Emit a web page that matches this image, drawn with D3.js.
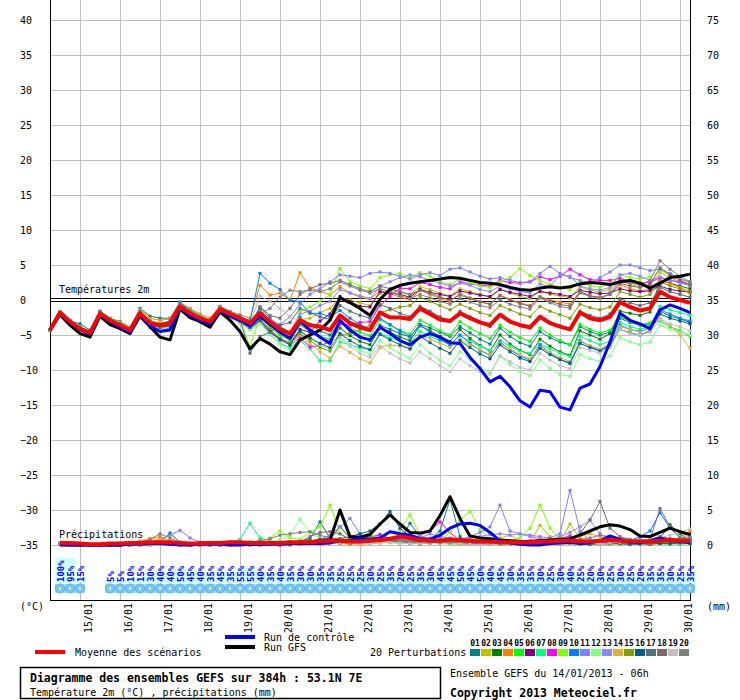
<!DOCTYPE html>
<html>
<head>
<meta charset="utf-8">
<script src="https://cdn.jsdelivr.net/npm/d3@7"></script>
<style>
body{margin:0;background:#fff;}
svg{display:block;}
</style>
</head>
<body>
<script>
// axes / categories
var dates = ["15/01","16/01","17/01","18/01","19/01","20/01","21/01","22/01","23/01","24/01","25/01","26/01","27/01","28/01","29/01","30/01"];
var tempTicks = [-35,-30,-25,-20,-15,-10,-5,0,5,10,15,20,25,30,35,40];
var mmTicks = [0,5,10,15,20,25,30,35,40,45,50,55,60,65,70,75];

// precipitation probability (%) per 6h step
var pctRain = [100,95,15,0,0,5,5,10,15,30,40,40,50,45,40,35,45,35,55,55,40,35,40,35,30,30,35,35,25,25,25,30,
               25,35,20,25,35,30,45,45,50,45,50,40,45,30,35,35,30,25,30,40,25,20,30,25,30,25,20,35,35,30,25,35];

// 2m temperature, every 6h from 14/01 06h
var meanT = [-4.3,-1.8,-3.1,-4.1,-4.7,-1.9,-2.9,-3.6,-4.3,-1.9,-3.3,-3.6,-3.3,-0.9,-1.9,-2.6,-3.1,-1.3,-2.0,-2.6,-3.3,
  -1.9,-3.1,-4.2,-4.8,
  -2.9,-3.6,-3.8,-4.3,-2.2,-3.3,-3.9,-4.3,-1.8,-2.5,-2.5,-2.7,-1.2,-2.0,-2.8,-3.0,-1.9,-2.6,-3.2,-3.6,-2.1,-3.1,-3.6,-3.9,-2.4,-3.3,-3.8,-4.2,-1.8,-2.6,-2.9,-2.4,-0.3,-1.0,-1.5,-1.2,1.2,0.4,0.0,-0.4];
var gfsT = [-4.3,-2.1,-3.6,-4.8,-5.3,-2.3,-3.5,-4.1,-4.8,-2.3,-3.8,-5.3,-5.7,-1.3,-2.5,-3.1,-3.9,-1.7,-2.9,-4.5,-7.0,
  -5.5,-6.3,-7.4,-7.8,
  -5.7,-5.0,-4.3,-2.9,0.3,-0.4,-1.2,-2.2,0.1,1.5,2.1,2.4,2.6,2.8,3.0,3.2,3.1,2.8,2.5,2.4,2.2,1.8,1.5,1.4,1.7,1.9,1.7,1.9,2.3,2.5,2.4,2.2,2.6,2.8,2.4,1.7,2.4,3.2,3.4,3.7];
var ctrlT = [-4.3,-1.9,-3.2,-4.2,-4.9,-2.0,-3.1,-3.9,-4.6,-2.1,-3.7,-4.5,-4.3,-1.1,-2.2,-2.9,-3.4,-1.5,-2.3,-2.9,-3.7,
  -2.3,-3.5,-4.6,-5.5,
  -3.1,-4.3,-5.3,-6.2,-2.9,-4.3,-5.3,-5.7,-3.9,-4.8,-5.8,-6.4,-5.3,-4.8,-5.3,-6.1,-6.2,-8.2,-9.8,-11.7,-10.9,-12.4,-14.4,-15.3,-12.9,-13.1,-15.3,-15.7,-12.6,-12.0,-9.5,-6.0,-1.9,-2.9,-3.4,-4.1,-1.4,-0.7,-1.2,-1.8];

var t01 = [-4.3,-1.8,-3.0,-3.4,-4.3,-1.6,-2.6,-3.1,-3.9,-1.2,-2.3,-2.6,-2.6,-0.3,-1.4,-2.2,-2.9,-1.1,-1.9,-2.6,-3.6,-1.0,-2.6,-3.8,-4.6,
  -2.5,-3.5,-4.4,-5.0,-3.2,-4.4,-5.3,-5.8,-3.6,-4.2,-4.8,-5.3,-3.5,-4.0,-4.6,-5.2,-3.8,-4.7,-5.6,-6.3,-4.0,-5.2,-6.1,-6.6,-4.5,-5.4,-6.0,-6.4,-3.8,-4.5,-5.0,-4.6,-2.6,-3.2,-3.6,-3.4,-1.6,-2.3,-2.7,-3.2];
var t02 = [-4.3,-1.9,-3.2,-4.3,-5.0,-2.1,-3.1,-3.8,-4.6,-2.3,-3.6,-4.0,-3.8,-1.2,-2.2,-2.9,-3.4,-1.5,-2.2,-2.8,-3.7,-2.2,-3.6,-4.8,-5.5,
  -2.8,-2.6,-1.8,-1.2,0.4,0.0,-0.4,-0.8,0.9,1.3,1.1,0.8,1.9,1.5,1.0,0.6,1.6,1.2,0.8,0.4,1.5,1.0,0.5,0.2,1.3,0.8,0.6,0.3,1.9,1.4,1.2,1.5,2.8,2.2,1.9,2.2,3.9,3.2,2.6,2.0];
var t03 = [-4.3,-1.7,-3.0,-4.0,-4.6,-1.8,-2.8,-3.5,-4.2,-1.7,-3.1,-3.5,-3.2,-0.6,-1.7,-2.5,-3.0,-1.0,-1.8,-2.4,-3.0,-1.4,-2.9,-4.1,-5.1,
  -3.2,-4.4,-5.3,-6.0,-4.0,-5.1,-5.9,-6.4,-3.9,-4.6,-5.3,-5.8,-3.7,-4.4,-5.2,-5.9,-4.2,-5.5,-6.5,-7.3,-5.0,-6.3,-7.2,-7.8,-5.6,-6.6,-7.4,-7.9,-4.4,-5.0,-5.6,-4.8,-1.6,-1.9,-2.2,-1.7,2.8,2.4,2.0,1.6];
var t04 = [-4.3,-1.8,-3.1,-4.0,-4.6,-1.7,-2.7,-3.2,-3.9,-1.4,-2.6,-2.9,-2.7,-0.4,-1.2,-2.0,-2.6,-0.9,-1.6,-2.1,-2.6,2.1,0.7,1.0,0.0,
  3.9,1.7,1.3,0.7,1.9,1.0,0.4,0.1,1.3,0.9,0.4,0.0,1.4,0.8,0.2,-0.2,0.9,0.3,-0.2,-0.6,0.7,0.1,-0.4,-0.8,0.5,0.0,-0.3,-0.6,1.2,0.6,0.4,0.8,2.2,1.6,1.3,1.5,2.9,2.3,1.8,1.2];
var t05 = [-4.3,-1.7,-3.0,-4.1,-4.8,-1.9,-3.0,-3.7,-4.4,-1.8,-3.2,-3.5,-3.1,-0.7,-1.8,-2.5,-3.0,-1.2,-1.9,-2.5,-3.4,-2.4,-3.9,-5.0,-5.8,
  -3.6,-4.5,-5.2,-5.6,-3.0,-4.0,-4.6,-5.1,-2.8,-3.6,-4.3,-4.9,-2.9,-3.6,-4.4,-5.0,-3.1,-4.0,-4.8,-5.5,-3.6,-4.6,-5.4,-5.9,-4.0,-5.0,-5.8,-6.4,-3.5,-4.2,-4.7,-4.3,-2.4,-3.0,-3.5,-3.3,-3.0,-3.8,-4.4,-5.2];
var t06 = [-4.3,-1.9,-3.2,-4.2,-4.8,-2.0,-3.0,-3.7,-4.4,-2.0,-3.4,-3.8,-3.5,-1.0,-2.1,-2.7,-3.2,-1.4,-2.2,-2.9,-3.8,-2.8,-4.4,-5.6,-6.2,
  -4.2,-4.6,-3.0,-2.0,0.5,-0.2,-0.9,-1.0,1.2,1.0,0.8,0.4,1.5,1.1,0.8,0.5,1.3,1.0,0.7,0.5,1.5,1.1,0.8,0.5,1.2,1.0,0.8,0.5,1.4,1.1,0.9,1.0,1.6,1.3,1.2,1.3,2.0,1.5,1.3,1.1];
var t07 = [-4.3,-1.8,-3.1,-4.2,-4.9,-2.1,-3.2,-3.9,-4.7,-2.2,-3.7,-4.2,-4.1,-1.4,-2.4,-3.1,-3.6,-1.7,-2.5,-3.2,-4.2,-3.2,-4.8,-6.2,-6.8,
  -5.8,-7.0,-8.7,-8.7,-6.0,-6.4,-6.8,-7.1,-4.8,-5.4,-5.9,-6.2,-4.5,-5.2,-5.8,-6.4,-5.1,-5.9,-6.6,-7.2,-5.8,-6.6,-7.3,-7.6,-6.3,-7.0,-7.6,-8.1,-5.2,-5.8,-6.4,-5.9,-3.2,-3.8,-4.2,-3.8,-0.9,-1.4,-1.8,-2.2];
var t08 = [-4.3,-1.9,-3.3,-4.4,-5.0,-2.2,-3.3,-4.0,-4.7,-2.3,-3.9,-4.3,-4.0,-1.3,-2.4,-3.0,-3.5,-1.7,-2.5,-3.2,-4.0,-3.0,-4.6,-5.7,-6.4,
  -5.4,-6.7,-6.5,-6.0,-3.4,-3.6,-3.2,-3.1,-0.8,0.5,1.7,1.6,2.5,2.2,1.8,1.6,2.6,2.3,2.1,2.0,2.8,2.5,2.4,2.6,3.3,2.9,3.4,4.4,3.6,2.9,2.8,2.8,3.1,2.6,2.4,2.5,3.2,2.8,2.6,2.2];
var t09 = [-4.3,-1.7,-2.9,-3.9,-4.5,-1.6,-2.6,-3.3,-4.0,-1.5,-2.9,-3.3,-3.1,-0.6,-1.6,-2.3,-2.9,-1.1,-1.9,-2.6,-6.7,-2.4,-3.2,-4.4,-5.0,
  -1.6,-1.0,-0.2,0.8,4.5,2.6,2.0,1.6,3.2,3.6,3.8,3.2,3.9,3.4,2.6,2.2,3.0,2.5,2.0,1.8,2.6,3.2,4.5,3.5,2.8,2.2,1.8,1.5,2.6,2.0,1.8,2.4,3.6,3.2,3.0,3.3,4.2,3.6,3.0,2.4];
var t10 = [-4.3,-1.8,-3.0,-4.0,-4.6,-1.7,-2.8,-3.4,-4.1,-1.6,-3.0,-3.4,-3.0,-0.4,-1.6,-2.4,-2.9,-1.0,-1.7,-2.3,-3.0,3.8,2.4,1.5,0.0,
  -0.3,-1.9,-1.9,-2.4,-1.5,-2.6,-3.5,-4.2,-2.6,-3.5,-4.4,-5.2,-3.6,-4.6,-5.6,-6.4,-5.0,-6.2,-7.2,-7.9,-6.0,-7.1,-8.0,-8.6,-6.4,-7.6,-8.5,-9.1,-5.8,-6.6,-7.2,-6.4,-3.6,-4.2,-4.5,-4.0,-1.4,-2.0,-2.6,-3.0];
var t11 = [-4.3,-1.8,-3.1,-4.1,-4.7,-1.8,-2.9,-3.6,-4.3,-1.8,-3.2,-3.6,-3.3,-0.8,-1.9,-2.6,-3.1,-1.4,-2.1,-2.7,-3.5,-1.6,-2.8,-3.5,-2.4,
  -0.6,0.8,1.6,2.6,3.6,3.4,3.2,3.8,4.0,3.8,3.4,3.0,3.6,3.9,3.5,4.4,4.6,4.0,3.4,3.0,3.2,2.8,2.5,2.6,3.8,4.8,3.8,3.2,2.8,2.4,3.2,4.0,5.0,5.0,4.6,4.2,4.4,3.8,3.0,2.6];
var t12 = [-4.3,-1.9,-3.2,-4.3,-5.0,-2.2,-3.3,-4.0,-4.8,-2.3,-3.8,-4.2,-3.9,-1.4,-2.5,-3.2,-3.8,-1.8,-2.6,-3.3,-4.3,-3.4,-5.0,-6.3,-7.2,
  -4.6,-5.6,-6.4,-7.0,-5.2,-6.3,-7.2,-7.8,-5.8,-6.8,-7.6,-8.3,-6.4,-7.6,-8.6,-9.4,-7.4,-8.6,-9.6,-10.4,-8.0,-9.2,-10.2,-10.8,-8.6,-9.8,-10.6,-10.9,-7.8,-8.4,-8.8,-8.0,-5.4,-6.0,-6.4,-6.0,-3.6,-4.2,-4.6,-5.0];
var t13 = [-4.3,-1.8,-3.0,-4.0,-4.6,-1.8,-2.8,-3.5,-4.2,-1.7,-3.1,-3.4,-3.2,-0.7,-1.8,-2.5,-3.0,-1.1,-1.9,-2.5,-3.2,-1.8,-3.0,-4.0,-4.6,
  -2.0,-1.6,-0.8,-0.2,1.5,1.0,0.6,0.2,2.0,2.6,3.2,3.6,3.3,2.8,2.4,2.0,2.4,2.1,1.5,1.2,2.0,1.6,1.2,1.0,2.3,1.9,3.6,3.4,2.0,1.6,1.4,1.8,3.6,3.8,3.4,2.8,3.3,2.8,2.4,2.1];
var t14 = [-4.3,-1.8,-3.1,-4.2,-4.8,-2.0,-3.0,-3.8,-4.5,-2.1,-3.5,-3.9,-3.7,-1.1,-2.2,-2.9,-3.4,-1.6,-2.4,-3.0,-3.9,-2.8,-4.4,-5.5,-6.3,
  -5.0,-6.2,-7.4,-8.3,-6.6,-7.5,-8.4,-9.0,-6.8,-6.4,-6.6,-6.9,-5.0,-5.6,-6.2,-6.8,-5.6,-6.4,-7.1,-7.8,-6.2,-7.0,-7.8,-8.4,-6.8,-7.5,-8.2,-8.8,-6.0,-6.5,-7.0,-6.2,-3.8,-4.2,-4.6,-4.0,-2.6,-3.6,-5.0,-6.9];
var t15 = [-4.3,-1.8,-3.1,-4.1,-4.7,-1.9,-2.9,-3.6,-4.3,-1.9,-3.3,-3.7,-3.4,-0.9,-2.0,-2.6,-3.2,-1.4,-2.1,-2.8,-3.6,-2.6,-4.2,-5.5,-6.1,
  -4.8,-5.8,-6.8,-7.3,-5.0,-4.8,-4.2,-3.6,-1.8,-1.4,-1.0,-0.8,0.4,-0.2,-0.8,-1.4,-0.6,-1.2,-1.8,-2.2,-0.8,-1.4,-2.0,-2.4,-0.9,-1.6,-2.1,-2.6,-0.6,-1.1,-1.4,-1.0,1.2,0.8,0.4,0.8,2.6,2.0,1.6,1.0];
var t16 = [-4.3,-1.9,-3.2,-4.2,-4.9,-2.0,-3.1,-3.8,-4.5,-2.0,-3.5,-3.9,-3.7,-1.0,-2.1,-2.8,-3.3,-1.5,-2.3,-3.0,-3.9,-2.9,-4.5,-5.6,-6.4,
  -4.4,-5.4,-6.2,-6.8,-4.8,-5.8,-6.6,-7.1,-4.9,-5.7,-6.4,-7.0,-5.2,-6.1,-6.9,-7.6,-5.8,-6.8,-7.7,-8.4,-6.4,-7.4,-8.3,-8.8,-6.9,-7.8,-8.5,-9.0,-6.2,-6.8,-7.3,-6.5,-4.2,-4.7,-5.0,-4.4,-2.0,-2.6,-3.0,-3.4];
var t17 = [-4.3,-1.8,-3.0,-3.9,-4.5,-1.7,-2.7,-3.4,-4.1,-1.7,-3.1,-3.5,-3.2,-0.8,-1.8,-2.5,-3.0,-1.2,-2.0,-2.8,-7.6,-5.2,-4.6,-3.6,-3.2,
  -1.2,-1.8,-2.4,-2.8,-0.8,-1.6,-2.2,-2.6,-0.6,-1.2,-1.9,-2.4,-0.9,-1.6,-2.4,-3.0,-1.6,-2.4,-3.2,-3.8,-2.2,-3.0,-3.6,-4.0,-2.4,-3.2,-3.7,-4.2,-1.6,-2.2,-2.6,-2.0,0.2,-0.4,-0.8,-0.4,1.8,1.2,0.8,0.4];
var t18 = [-4.3,-1.8,-3.1,-4.1,-4.8,-1.9,-3.0,-3.7,-4.4,-2.0,-3.4,-3.8,-3.5,-1.0,-2.1,-2.8,-3.3,-1.5,-2.3,-2.9,-3.7,-1.0,-2.2,-2.6,-1.2,
  0.8,1.6,2.2,2.4,2.8,2.2,1.6,1.2,2.0,1.6,1.2,0.8,1.4,1.0,0.4,0.0,0.7,0.2,-0.3,-0.6,0.6,0.0,-0.5,-0.9,0.4,-0.2,-0.6,-0.9,1.2,0.6,0.3,0.8,2.4,2.0,1.8,2.2,4.6,3.6,2.8,2.2];
var t19 = [-4.3,-1.8,-3.1,-4.1,-4.7,-1.8,-2.8,-3.5,-4.2,-1.8,-3.2,-3.6,-3.3,-0.8,-1.9,-2.6,-3.1,-1.3,-2.1,-2.7,-3.4,0.6,-0.2,-1.2,-2.4,
  -3.0,-4.0,-5.2,-6.4,-5.4,-6.6,-7.6,-8.2,-6.6,-7.6,-8.4,-9.0,-7.4,-8.4,-9.4,-10.2,-8.4,-9.4,-10.2,-10.6,-8.0,-8.8,-9.6,-10.0,-7.6,-8.6,-9.4,-9.8,-6.8,-7.2,-7.6,-6.8,-4.2,-4.8,-5.0,-4.6,-2.8,-3.4,-3.8,-4.4];
var t20 = [-4.3,-1.8,-3.0,-4.0,-4.6,-1.7,-2.8,-3.5,-4.2,-1.8,-3.2,-3.6,-3.3,-0.8,-1.8,-2.5,-3.0,-1.2,-2.0,-2.6,-3.2,-2.0,-1.2,0.4,1.4,
  1.2,1.4,1.2,1.6,2.6,2.0,1.4,1.0,1.6,1.2,0.6,0.2,0.8,0.3,-0.2,-0.6,0.2,-0.3,-0.8,-1.1,0.0,-0.6,-1.0,-1.3,0.3,-0.4,-0.9,-1.2,1.0,0.5,0.2,0.9,2.8,2.4,2.2,2.8,5.6,4.4,3.4,2.6];

// precipitation (mm / 6h), from 14/01 12h
var meanP = [0.3,0.3,0.2,0.1,0.1,0.2,0.2,0.3, 0.3,0.4,0.4,0.4,0.3,0.2,0.2,0.3, 0.3,0.4,0.4,0.3,0.3,0.3,0.3,0.4, 0.4,0.4,0.5,0.6,0.6,0.5,0.5,0.6,
  0.7,0.9,1.2,1.0,0.7,0.6,0.6,0.8, 0.7,0.6,0.5,0.5,0.4,0.4,0.4,0.4, 0.5,0.5,0.6,0.6,0.5,0.5,0.6,0.7, 0.6,0.5,0.5,0.5,0.6,0.7,0.6,0.6];
var gfsP = [0,0,0,0,0,0,0,0.2, 0.2,0.3,0.3,0.2,0.1,0.1,0.3,0.3, 0.2,0.1,0.1,0.1,0.1,0.2,0.2,0.3, 0.3,0.4,0.5,0.7,5.0,1.2,1.1,1.5,
  3.0,4.3,3.0,1.8,1.7,2.0,4.2,6.9, 3.8,1.3,1.0,0.9,0.7,0.6,0.5,0.5, 0.6,0.7,0.8,0.9,1.4,2.0,2.6,2.9, 2.7,2.2,1.3,1.2,1.8,2.4,1.9,1.5];
var ctrlP = [0.1,0,0,0,0,0,0,0.1, 0.1,0.2,0.2,0.1,0,0,0.1,0.1, 0.1,0,0,0.1,0.1,0.1,0.1,0.2, 0.2,0.2,0.2,0.3,0.6,0.6,1.0,0.8,
  1.0,1.9,1.6,1.4,0.9,0.8,1.4,2.4, 3.0,3.1,2.8,1.8,0.6,0.3,0.1,0.0, 0.0,0.2,0.3,0.4,0.2,0.3,0.6,1.3, 0.8,0.4,0.3,0.6,1.0,0.6,0.5,0.4];

var r01 = [0.2,0.1,0,0,0,0,0,0.1, 0.2,0.3,0.4,1.7,0.4,0.1,0,0.2, 0.3,0.2,0.1,0,0.2,0.4,0.3,0.2, 0.6,0.9,3.3,1.0,0.4,0.2,0.5,0.9,
  1.5,0.8,0.6,3.1,1.2,0.8,2.0,6.5, 1.2,0.3,0.2,0.1,0.3,0.4,0.2,0.1, 0.3,0.5,0.6,0.2,0.1,0.2,0.4,0.5, 0.6,0.3,0.2,0.1,0.2,0.4,0.5,0.3];
var r02 = [0.2,0.1,0,0,0,0,0,0, 0,0.1,0.2,0.2,0.1,0,0,0, 0,0.1,0.2,0.1,0,0,0.1,0.2, 0.1,0.2,0.3,0.4,0.2,0.1,0.3,0.4,
  0.6,0.5,0.4,0.3,0.2,0.3,0.4,0.3, 0.2,0.1,0.2,0.5,1.0,1.4,0.6,0.4, 2.8,1.2,0.4,3.0,1.0,0.4,0.2,0.3, 0.2,0.1,0.2,0.3,0.2,0.4,0.3,0.2];
var r03 = [0.2,0.1,0,0,0,0,0,0, 0,0,0.1,0.1,0,0,0,0, 0,0,0.1,0.1,0,0.2,0.1,0, 0.2,0.4,0.5,0.8,2.6,1.0,0.6,0.3,
  0.4,0.6,0.5,0.3,0.2,0.4,0.6,0.5, 0.4,0.3,0.2,0.3,0.2,0.1,0.2,0.3, 0.4,0.3,0.2,0.2,0.3,0.5,0.6,0.4, 0.3,0.2,0.4,0.6,1.0,2.9,1.6,0.6];
var r04 = [0.3,0.2,0.1,0,0,0,0.1,0.2, 0.5,0.9,1.2,0.6,0.2,0.1,0,0.1, 0.2,0.1,0,0,0.1,0.2,0.1,0.2, 0.3,0.2,0.1,0.2,0.3,0.2,0.1,0.2,
  0.3,0.4,0.3,0.2,0.2,0.3,0.4,0.2, 0.1,0.1,0.2,0.2,0.1,0.1,0.2,0.2, 0.2,0.1,0.1,0.2,0.3,0.3,0.2,0.1, 0.1,0.2,0.2,0.1,0.2,0.4,0.8,2.0];
var r05 = [0.2,0.1,0,0,0,0,0,0, 0.1,0.2,0.3,0.2,0.1,0,0,0, 0,0.1,0.1,0.2,0.3,0.2,0.1,0.2, 0.3,0.4,0.6,0.8,0.5,0.3,0.4,0.6,
  0.8,0.9,0.6,0.5,0.4,0.3,0.4,0.5, 0.3,0.2,0.1,0.2,0.3,0.2,0.2,0.1, 0.2,0.3,0.4,0.3,0.2,0.1,0.2,0.3, 0.2,0.1,0.2,0.3,0.2,0.1,0.3,0.2];
var r06 = [0.2,0.1,0,0,0,0,0,0, 0.1,0.2,0.2,0.1,0,0,0,0, 0,0.1,0.1,0.1,0.2,0.1,0,0.1, 0.2,0.3,0.5,0.6,0.4,0.2,0.3,0.4,
  0.5,0.6,0.4,0.3,0.2,0.3,0.5,0.4, 0.3,0.2,0.2,0.1,0.1,0.2,0.3,0.2, 0.1,0.2,0.3,0.2,0.2,0.3,0.2,0.1, 0.2,0.3,0.2,0.1,0.3,0.5,0.4,0.3];
var r07 = [0.2,0.1,0,0,0,0,0,0, 0.1,0.1,0.2,0.2,0.1,0,0,0.1, 0.2,0.4,0.8,3.1,1.0,0.6,0.4,0.2, 0.4,0.3,0.5,0.6,0.4,0.6,1.2,0.9,
  0.6,0.4,0.3,0.5,0.8,0.6,0.4,0.3, 0.2,0.3,0.4,0.3,0.2,0.1,0.2,0.3, 0.4,0.3,0.2,0.2,0.1,0.2,0.3,0.2, 0.3,0.2,0.1,0.2,0.3,0.2,0.1,0.2];
var r08 = [0.2,0.1,0,0,0,0,0,0, 0.1,0.1,0.2,0.2,0.1,0,0,0, 0.1,0.2,0.3,0.2,0.3,0.4,0.5,0.4, 0.3,0.2,0.4,0.6,0.7,0.8,1.0,1.2,
  1.4,0.9,0.6,0.8,1.4,2.0,3.3,1.8, 0.6,0.4,0.5,0.6,0.4,0.3,0.5,0.6, 0.8,0.6,0.9,1.3,0.6,0.4,0.3,0.4, 0.5,0.3,0.2,0.4,0.5,0.6,0.4,0.5];
var r09 = [0.2,0.1,0,0,0,0,0,0, 0,0.1,0.1,0.1,0,0,0,0, 0.1,0.2,0.2,0.3,0.4,1.0,2.0,1.0, 0.8,1.8,2.6,5.7,1.6,0.6,0.8,1.4,
  1.0,0.6,2.2,4.3,1.4,0.8,0.6,1.8, 3.6,4.8,2.2,0.9,0.5,0.6,1.0,2.4, 5.7,2.4,0.8,0.4,0.3,0.2,0.2,0.3, 0.2,0.3,0.4,0.6,0.5,0.4,0.3,0.2];
var r10 = [0.2,0.1,0,0,0,0,0,0, 0,0.1,0.2,0.3,0.2,0.1,0,0.1, 0.2,0.3,0.2,0.1,0.2,0.1,0.2,0.3, 0.2,0.3,0.2,0.4,0.5,0.3,0.2,0.4,
  0.5,0.4,0.3,0.2,0.3,0.5,0.6,0.4, 0.3,0.2,0.1,0.2,0.3,0.2,0.1,0.1, 0.2,0.4,0.3,0.2,0.3,0.4,0.2,0.3, 0.4,0.6,1.2,2.0,4.6,2.4,1.0,0.6];
var r11 = [0.2,0.1,0,0,0,0,0,0, 0.1,0.3,0.8,1.4,2.1,1.0,0.4,0.2, 0.1,0,0.1,0.2,0.1,0.2,0.3,0.2, 0.3,0.5,0.8,1.4,2.6,3.8,1.6,0.8,
  0.6,0.4,0.5,0.8,1.0,1.6,1.2,1.0, 0.8,1.2,1.8,2.6,5.7,2.0,1.6,1.4, 1.2,1.0,1.6,7.8,2.0,0.6,0.4,0.3, 0.4,0.6,0.8,0.6,0.4,0.5,0.6,1.0];
var r12 = [0.2,0.1,0,0,0,0,0,0, 0,0.1,0.1,0.1,0,0,0,0, 0.1,0.2,0.2,0.4,0.3,0.5,0.8,1.4, 3.7,1.8,1.0,0.6,0.4,0.3,0.2,0.3,
  0.4,0.3,0.2,0.3,0.4,0.3,0.2,0.1, 0.2,0.3,0.2,0.1,0.1,0.2,0.2,0.1, 0.2,0.3,0.2,0.1,0.2,0.3,0.2,0.1, 0.1,0.2,0.3,0.2,0.1,0.2,0.3,0.2];
var r13 = [0.2,0.1,0,0,0,0,0,0, 0.1,0.2,0.2,0.3,0.2,0.1,0,0, 0,0.1,0.2,0.3,0.2,0.3,0.4,0.3, 0.4,0.5,0.4,0.6,0.7,0.5,0.6,0.9,
  1.0,0.8,0.7,0.9,1.2,1.0,0.8,0.6, 0.8,1.0,1.2,1.5,1.6,1.4,1.6,1.2, 0.9,0.8,1.2,1.8,2.6,3.5,1.6,0.6, 0.4,0.5,0.6,0.4,0.3,0.5,0.8,1.0];
var r14 = [0.3,0.2,0.1,0,0,0,0.1,0.3, 0.6,0.9,0.8,0.4,0.2,0.1,0,0.1, 0.1,0,0.1,0.1,0.2,0.1,0.1,0.2, 0.3,0.4,0.5,0.3,0.2,0.3,0.4,0.5,
  0.6,0.5,0.4,0.3,0.4,0.5,0.6,0.5, 0.4,0.3,0.2,0.3,0.4,0.3,0.2,0.3, 0.4,0.5,0.6,0.8,1.2,1.6,1.2,0.8, 0.5,0.4,0.3,0.2,0.3,0.4,0.3,0.2];
var r15 = [0.2,0.1,0,0,0,0,0,0, 0,0.1,0.1,0.2,0.1,0,0,0, 0,0.1,0.1,0.2,0.1,0.1,0.2,0.3, 0.4,0.6,0.8,0.6,0.4,0.6,0.9,1.2,
  1.0,0.8,0.6,0.5,0.4,0.6,0.8,0.7, 0.6,0.5,0.4,0.5,0.4,0.3,0.4,0.5, 0.6,0.8,1.0,0.8,0.6,0.4,0.3,0.2, 0.3,0.4,0.3,0.2,0.3,0.4,0.5,0.4];
var r16 = [0.2,0.1,0,0,0,0,0,0, 0.1,0.2,0.3,0.2,0.1,0,0,0, 0.1,0.2,0.1,0.2,0.3,0.2,0.3,0.4, 0.5,0.6,0.8,1.0,0.9,1.2,1.6,2.0,
  3.0,4.8,2.4,1.2,0.8,0.6,0.5,0.4, 0.3,0.2,0.2,0.3,0.2,0.1,0.2,0.3, 0.2,0.3,0.4,0.3,0.2,0.1,0.2,0.3, 0.2,0.1,0.2,0.3,0.2,0.2,0.3,0.2];
var r17 = [0.2,0.1,0,0,0,0,0,0, 0.1,0.2,0.1,0.2,0.1,0,0,0, 0,0.1,0.2,0.4,0.6,0.4,0.3,0.2, 0.4,0.5,0.6,0.4,0.3,0.4,0.6,0.8,
  0.7,0.6,0.5,0.4,0.5,0.6,0.4,0.3, 0.4,0.5,0.6,0.5,0.4,0.3,0.4,0.5, 0.6,0.5,0.4,0.3,0.4,0.5,0.4,0.3, 0.2,0.3,0.5,0.8,1.2,0.9,0.6,0.5];
var r18 = [0.2,0.1,0,0,0,0,0,0, 0.1,0.2,0.2,0.2,0.1,0,0,0, 0,0.1,0.1,0.2,0.1,0.2,0.2,0.3, 0.4,1.2,1.8,1.9,1.6,0.8,0.5,0.6,
  0.8,0.6,0.5,0.4,0.5,0.6,0.8,0.6, 0.4,0.3,0.2,0.3,0.2,0.3,0.4,0.3, 0.4,0.5,0.6,0.9,1.6,3.6,6.2,2.4, 1.2,0.8,0.6,0.8,5.2,2.6,1.0,0.8];
var r19 = [0.2,0.1,0,0,0,0,0,0, 0,0.1,0.1,0.1,0,0,0,0, 0,0.1,0.1,0.2,0.1,0.1,0.2,0.2, 0.3,0.4,0.3,0.2,0.3,0.4,0.3,0.2,
  0.3,0.4,0.3,0.2,0.2,0.3,0.4,0.3, 0.2,0.1,0.1,0.2,0.2,0.1,0.1,0.2, 0.3,0.2,0.2,0.3,0.4,0.3,0.2,0.3, 0.4,0.5,0.6,0.8,1.0,1.4,1.8,2.3];
var r20 = [0.2,0.1,0,0,0,0,0,0.2, 0.4,0.8,1.6,1.0,0.4,0.2,0.1,0.1, 0.1,0.2,0.3,0.4,0.6,0.9,1.4,1.6, 1.8,1.9,1.4,1.0,0.8,0.6,0.4,0.5,
  0.6,0.7,0.8,0.6,0.5,0.4,0.3,0.4, 0.5,0.6,0.4,0.3,0.2,0.3,0.4,0.5, 0.4,0.3,0.5,0.6,0.8,1.0,1.4,1.2, 1.0,0.8,0.6,0.4,0.6,0.8,1.0,1.2];

var pertLabels = ["01","02","03","04","05","06","07","08","09","10","11","12","13","14","15","16","17","18","19","20"];
var pertColors = ["#008080","#c0c000","#008000","#ff8000","#00ff00","#800080","#00ff80","#ff00ff","#80ff00","#0080ff",
                  "#8080ff","#80ff80","#8888ff","#e0b040","#80a000","#006080","#507080","#806870","#c0c0c0","#808080"];

var pertT = [t01,t02,t03,t04,t05,t06,t07,t08,t09,t10,t11,t12,t13,t14,t15,t16,t17,t18,t19,t20];
var pertP = [r01,r02,r03,r04,r05,r06,r07,r08,r09,r10,r11,r12,r13,r14,r15,r16,r17,r18,r19,r20];

//Margins
var margin = {top: 0, right: 50, bottom: 100, left: 50},
    width = 740 - margin.left - margin.right,
    height = 700 - margin.top - margin.bottom;

var mono = "'DejaVu Sans Mono','Liberation Mono',monospace";

var svg = d3.select("body").append("svg")
    .attr("width", 740)
    .attr("height", 700)
    .style("font-family", mono)
    .style("font-size", "10px");

// time steps (hours since 14/01 06h)
var hoursT = meanT.map(function(d,i){ return i*6; });
var hoursP = meanP.map(function(d,i){ return (i+1)*6; });
var dayHours = dates.map(function(d,i){ return 18 + 24*i; });

var x = d3.scaleLinear().domain([0,384]).range([margin.left, margin.left + width]);
var yT = d3.scaleLinear().domain([-35,40]).range([545,20]);
var yP = d3.scaleLinear().domain([0,75]).range([545,20]);

// horizontal grid + left labels
var gLeft = svg.append("g")
    .attr("transform","translate(" + margin.left + ",0)")
    .call(d3.axisLeft(yT).tickValues(tempTicks).tickSize(-width).tickPadding(0));
gLeft.select(".domain").remove();
gLeft.attr("font-family", mono);
gLeft.selectAll("line").attr("stroke","#c0c0c0").style("shape-rendering","crispEdges");
gLeft.selectAll(".tick").filter(function(d){ return d === 0; }).select("line").remove();
gLeft.selectAll("text").attr("x",-30).attr("text-anchor","start").attr("fill","#000").style("font-size","10px");

// right axis (mm)
var gRight = svg.append("g")
    .attr("transform","translate(" + (margin.left + width) + ",0)")
    .call(d3.axisRight(yP).tickValues(mmTicks).tickSize(0).tickPadding(0));
gRight.select(".domain").remove();
gRight.attr("font-family", mono);
gRight.selectAll("text").attr("x",17).attr("fill","#000").style("font-size","10px");

// vertical grid + dates
var gDates = svg.append("g")
    .attr("transform","translate(0," + height + ")")
    .call(d3.axisBottom(x).tickValues(dayHours).tickSize(-height).tickFormat(""));
gDates.select(".domain").remove();
gDates.selectAll("line").attr("stroke","#c0c0c0").style("shape-rendering","crispEdges");
gDates.selectAll(".tick").append("text")
    .attr("transform","translate(11,3) rotate(-90)")
    .attr("text-anchor","end")
    .attr("fill","#000")
    .style("font-family", mono)
    .style("font-size","10px")
    .text(function(d,i){ return dates[i]; });

// frame
var frame = svg.append("g").attr("stroke","#000").style("shape-rendering","crispEdges");
frame.append("line").attr("x1",margin.left+0.5).attr("x2",margin.left+0.5).attr("y1",0).attr("y2",height+0.5);
frame.append("line").attr("x1",margin.left+width+0.5).attr("x2",margin.left+width+0.5).attr("y1",0).attr("y2",height+0.5);
frame.append("line").attr("x1",margin.left).attr("x2",margin.left+width+1).attr("y1",height+0.5).attr("y2",height+0.5);
// double zero line
frame.append("line").attr("x1",margin.left).attr("x2",margin.left+width).attr("y1",yT(0)-1.5).attr("y2",yT(0)-1.5);
frame.append("line").attr("x1",margin.left).attr("x2",margin.left+width).attr("y1",yT(0)+1.5).attr("y2",yT(0)+1.5);

svg.append("text").attr("x",59).attr("y",293).text("Températures 2m");
svg.append("text").attr("x",59).attr("y",538).text("Précipitations");
svg.append("text").attr("x",20).attr("y",610).text("(°C)");
svg.append("text").attr("x",707).attr("y",610).text("(mm)");

// precipitation probability strip
var strip = svg.append("g");
var pcts = strip.selectAll(".pct").data(pctRain).enter().append("g")
    .attr("class","pct")
    .attr("transform",function(d,i){ return "translate(" + x(hoursP[i]) + ",0)"; })
    .filter(function(d){ return d > 0; });
pcts.append("rect").attr("x",-5).attr("width",10)
    .attr("y",function(d){ return 583 - (2 + d*0.24); })
    .attr("height",function(d){ return 2 + d*0.24; })
    .attr("fill","#ccffff");
pcts.append("rect").attr("x",-5).attr("width",10).attr("y",584).attr("height",9).attr("fill","#a6def7");
pcts.append("circle").attr("cx",0).attr("cy",588.5).attr("r",4.6)
    .attr("fill","#74c8f2").attr("stroke","#4aa8e4").attr("stroke-width",0.8);
pcts.append("rect").attr("x",-1).attr("y",587.5).attr("width",2).attr("height",2).attr("fill","#ffffff");
pcts.append("text")
    .attr("transform","translate(3.5,582) rotate(-90)")
    .attr("fill","#0000ff")
    .style("font-size","9px")
    .style("font-weight","bold")
    .text(function(d){ return d + "%"; });

// series
var lineT = d3.line().x(function(d,i){ return x(hoursT[i]); }).y(function(d){ return yT(d); });
var lineP = d3.line().x(function(d,i){ return x(hoursP[i]); }).y(function(d){ return yP(d); });

var plot = svg.append("g");

pertT.forEach(function(s,j){
    var g = plot.append("g");
    g.append("path").attr("d", lineT(s)).attr("fill","none").attr("stroke",pertColors[j]).attr("stroke-width",1);
    g.selectAll("rect").data(s).enter().append("rect")
        .attr("x",function(d,i){ return x(hoursT[i]) - 1.5; })
        .attr("y",function(d){ return yT(d) - 1.5; })
        .attr("width",3).attr("height",3)
        .attr("fill",pertColors[j]);
});
pertP.forEach(function(s,j){
    var g = plot.append("g");
    g.append("path").attr("d", lineP(s)).attr("fill","none").attr("stroke",pertColors[j]).attr("stroke-width",1);
    g.selectAll("rect").data(s).enter().append("rect")
        .attr("x",function(d,i){ return x(hoursP[i]) - 1.5; })
        .attr("y",function(d){ return yP(d) - 1.5; })
        .attr("width",3).attr("height",3)
        .attr("fill",pertColors[j]);
});

function thick(path, color, w){
    plot.append("path").attr("d", path).attr("fill","none")
        .attr("stroke", color).attr("stroke-width", w)
        .attr("stroke-linejoin","round");
}
thick(lineT(gfsT), "#000000", 3);
thick(lineP(gfsP), "#000000", 3);
thick(lineT(ctrlT), "#0000ff", 3);
thick(lineP(ctrlP), "#0000ff", 3);
thick(lineT(meanT), "#ff0000", 4);
thick(lineP(meanP), "#ff0000", 4);

// legend
var legend = svg.append("g").style("font-size","10px");
legend.append("line").attr("x1",35).attr("x2",65).attr("y1",652).attr("y2",652).attr("stroke","#ff0000").attr("stroke-width",4);
legend.append("text").attr("x",75).attr("y",656).text("Moyenne des scénarios");
legend.append("line").attr("x1",225).attr("x2",255).attr("y1",637).attr("y2",637).attr("stroke","#0000ff").attr("stroke-width",4);
legend.append("text").attr("x",264).attr("y",641).text("Run de contrôle");
legend.append("line").attr("x1",225).attr("x2",255).attr("y1",647).attr("y2",647).attr("stroke","#000000").attr("stroke-width",4);
legend.append("text").attr("x",264).attr("y",651).text("Run GFS");
legend.append("text").attr("x",370).attr("y",656).text("20 Perturbations");

var sw = legend.selectAll(".sw").data(pertLabels).enter().append("g")
    .attr("class","sw")
    .attr("transform",function(d,i){ return "translate(" + (470 + i*11) + ",0)"; });
sw.append("rect").attr("x",0).attr("y",649).attr("width",10).attr("height",7)
    .attr("fill",function(d,i){ return pertColors[i]; });
sw.append("text").attr("x",5).attr("y",646).attr("text-anchor","middle")
    .style("font-size","8px").style("font-weight","bold").text(function(d){ return d; });

// title box
svg.append("rect").attr("x",20.5).attr("y",667.5).attr("width",420).attr("height",31)
    .attr("fill","#fff").attr("stroke","#000").attr("stroke-width",1.5);
svg.append("text").attr("x",30).attr("y",682).style("font-size","11.5px").style("font-weight","bold")
    .text("Diagramme des ensembles GEFS sur 384h : 53.1N 7E");
svg.append("text").attr("x",30).attr("y",696)
    .text("Température 2m (°C) , précipitations (mm)");
svg.append("text").attr("x",450).attr("y",677)
    .text("Ensemble GEFS du 14/01/2013 - 06h");
svg.append("text").attr("x",450).attr("y",697).style("font-size","11.5px").style("font-weight","bold")
    .text("Copyright 2013 Meteociel.fr");
</script>
</body>
</html>
